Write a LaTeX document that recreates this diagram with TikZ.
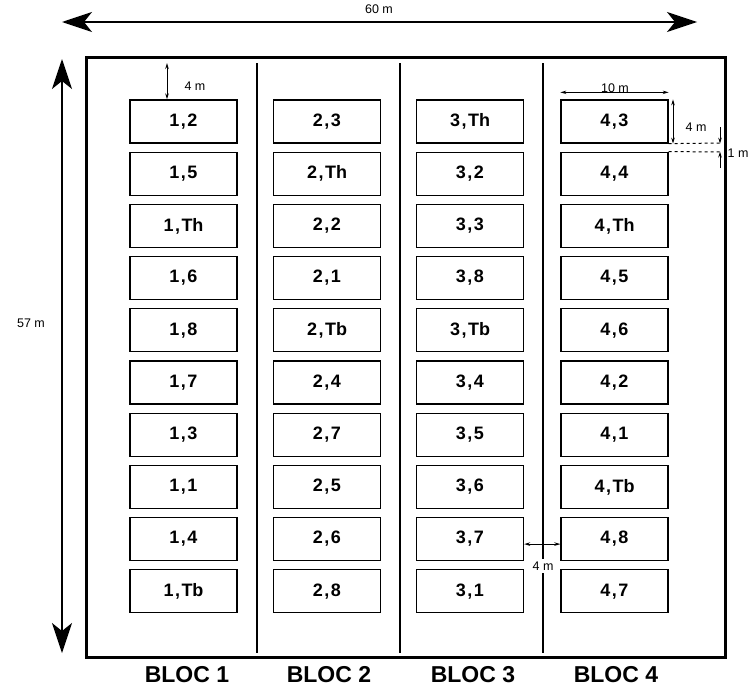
\documentclass[tikz,border=0pt]{standalone}
\usepackage{fontspec}
\setmainfont{Liberation Sans}
\usetikzlibrary{arrows.meta}
\newcommand{\cm}{\kern1.5pt,\kern1.5pt}
\begin{document}
\begin{tikzpicture}[x=1pt,y=-1pt,
  plot/.style={draw, line width=1.3pt, minimum width=107pt, minimum height=43pt, inner sep=0pt,
    font=\fontsize{18}{20}\selectfont\bfseries},
  dimtxt/.style={font=\fontsize{12.5}{14}\selectfont, inner sep=1pt},
  bigdim/.style={line width=1.5pt, {Stealth[length=30pt,width=20pt,inset=8pt]}-{Stealth[length=30pt,width=20pt,inset=8pt]}},
  smalldim/.style={line width=1pt, {Stealth[length=6pt,width=3.5pt]}-{Stealth[length=6pt,width=3.5pt]}},
  onedim/.style={line width=1pt, -{Stealth[length=6pt,width=3.5pt]}},
  divider/.style={line width=1.1pt},
  bloc/.style={font=\fontsize{23}{25}\selectfont\bfseries, inner sep=0pt}]
\useasboundingbox (0,0) rectangle (752,688);
% frame
\node[draw, line width=3pt, minimum width=639pt, minimum height=600pt, inner sep=0pt] (frame) at (405.5,357) {};
% dividers
\foreach \x/\n in {257/d1,400/d2}{
  \coordinate (\n top) at (\x,63);
  \coordinate (\n bot) at (\x,653);
  \draw[divider] (\n top) -- (\n bot);
}
\coordinate (d3top) at (543,63);
\coordinate (d3bot) at (543,653);
\draw[divider] (d3top) -- (d3bot);
% plots
\foreach \c/\x in {1/183.5,2/327,3/470,4/614.5}{
  \foreach \r in {1,...,10}{
    \coordinate (p\c-\r) at (\x,{121.5+52.2*(\r-1)});
  }
}
\foreach \lab [count=\r] in {2,5,Th,6,8,7,3,1,4,Tb}{
  \node[plot] (b1-\r) at (p1-\r) {1\cm\lab};
}
\foreach \lab [count=\r] in {3,Th,2,1,Tb,4,7,5,6,8}{
  \node[plot] (b2-\r) at (p2-\r) {2\cm\lab};
}
\foreach \lab [count=\r] in {Th,2,3,8,Tb,4,5,6,7,1}{
  \node[plot] (b3-\r) at (p3-\r) {3\cm\lab};
}
\foreach \lab [count=\r] in {3,4,Th,5,6,2,1,Tb,8,7}{
  \node[plot] (b4-\r) at (p4-\r) {4\cm\lab};
}
% block labels
\node[bloc] (bl1) at (187,675) {BLOC 1};
\node[bloc] (bl2) at (329,675) {BLOC 2};
\node[bloc] (bl3) at (473,675) {BLOC 3};
\node[bloc] (bl4) at (616,675) {BLOC 4};
% 60 m
\coordinate (h60a) at (62,22);
\coordinate (h60b) at (697,22);
\draw[bigdim] (h60a) -- (h60b);
\node[dimtxt] (t60) at (379,9) {60 m};
% 57 m
\coordinate (v57a) at (62,59);
\coordinate (v57b) at (62,653);
\draw[bigdim] (v57a) -- (v57b);
\node[dimtxt] (t57) at (31,323) {57 m};
% 4 m top left
\coordinate (m4a) at (167,63);
\draw[smalldim] (m4a) -- (m4a |- b1-1.north);
\node[dimtxt] (t4a) at (195,86) {4 m};
% 10 m
\node[dimtxt] (t10) at (615,88) {10 m};
\draw[smalldim] ([yshift=7pt]b4-1.north west) -- ([yshift=7pt]b4-1.north east);
% 4 m right of 4,3
\coordinate (m4b) at (673,100);
\draw[smalldim] (m4b |- b4-1.north) -- (m4b |- b4-1.south);
\node[dimtxt] (t4b) at (696,127) {4 m};
% dashed guides
\coordinate (g1) at (721,143);
\coordinate (g2) at (721,152);
\draw[dashed, line width=1pt] (b4-1.south east) -- (g1);
\draw[dashed, line width=1pt] (b4-2.north east) -- (g2);
\coordinate (a1) at (720,127);
\coordinate (a2) at (720,168);
\draw[onedim] (a1) -- (a1 |- b4-1.south);
\draw[onedim] (a2) -- (a2 |- b4-2.north);
\node[dimtxt] (t1m) at (738,153) {1 m};
% 4 m between 3,7 and 4,8
\draw[smalldim] ([yshift=-5pt]b3-9.east) -- ([yshift=-5pt]b4-9.west);
\node[dimtxt, fill=white, inner ysep=3pt] (t4c) at (543,566) {4 m};
\end{tikzpicture}
\end{document}
